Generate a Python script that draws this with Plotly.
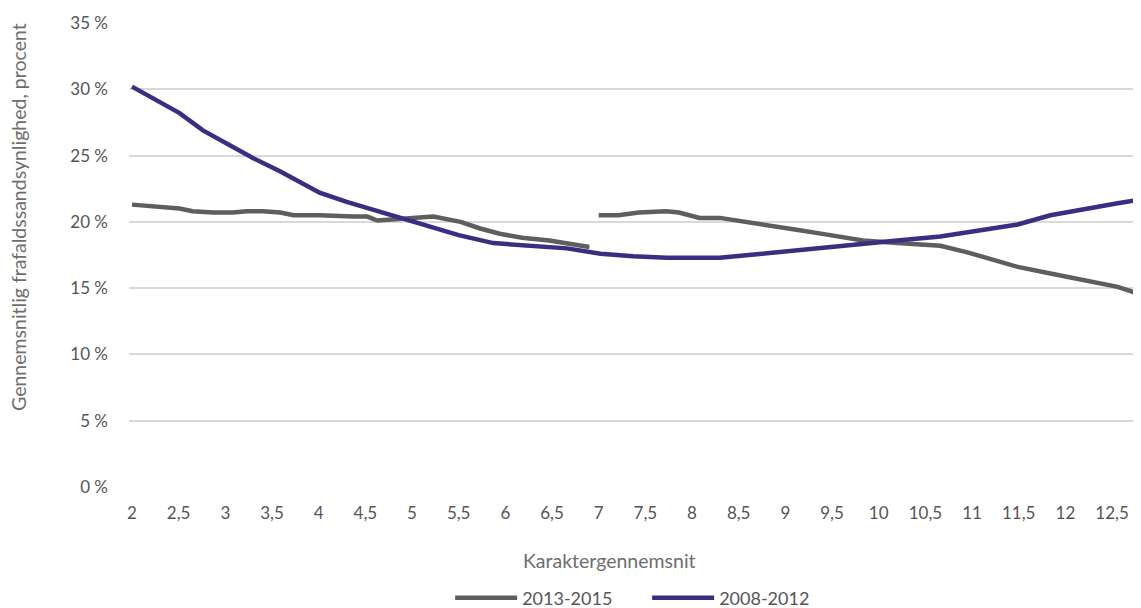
import plotly.graph_objects as go

# Series 2008-2012
x_0812 = [2.0, 2.23, 2.51, 2.76, 3.02, 3.30, 3.59, 3.80, 4.01, 4.30, 4.58, 4.84, 5.09, 5.25, 5.5,
          5.87, 6.30, 6.66, 7.02, 7.37, 7.73, 8.08, 8.30, 8.75, 9.30, 9.83, 10.2, 10.66, 10.95,
          11.49, 11.84, 12.19, 12.56, 12.81]
y_0812 = [30.2, 29.3, 28.2, 26.9, 25.9, 24.8, 23.8, 23.0, 22.2, 21.5, 20.9, 20.4, 19.8, 19.5, 19.0,
          18.4, 18.2, 18.0, 17.6, 17.4, 17.3, 17.3, 17.3, 17.6, 18.0, 18.4, 18.6, 18.9, 19.2,
          19.8, 20.5, 20.9, 21.4, 21.7]

# Series 2013-2015 (gap at 7)
x_1315 = [2.0, 2.23, 2.51, 2.65, 2.87, 3.08, 3.23, 3.40, 3.59, 3.73, 4.01, 4.37, 4.52, 4.63, 4.80,
          5.01, 5.23, 5.52, 5.73, 5.94, 6.18, 6.47, 6.66, 6.90, 6.95,
          7.0, 7.21, 7.43, 7.72, 7.86, 8.08, 8.30, 8.59, 8.80, 9.12, 9.48, 9.83, 10.2, 10.66,
          10.95, 11.23, 11.49, 11.84, 12.19, 12.56, 12.73, 12.81]
y_1315 = [21.3, 21.2, 21.0, 20.8, 20.7, 20.7, 20.8, 20.8, 20.7, 20.5, 20.5, 20.4, 20.4, 20.1, 20.2,
          20.3, 20.4, 20.0, 19.5, 19.1, 18.8, 18.6, 18.4, 18.1, None,
          20.5, 20.5, 20.7, 20.8, 20.7, 20.3, 20.3, 20.0, 19.8, 19.4, 19.0, 18.6, 18.4, 18.2,
          17.7, 17.1, 16.6, 16.1, 15.6, 15.1, 14.7, 14.2]

x_tickvals = [2, 2.5, 3, 3.5, 4, 4.5, 5, 5.5, 6, 6.5, 7, 7.5, 8, 8.5, 9, 9.5, 10, 10.5, 11, 11.5, 12, 12.5]
x_ticktext = ["2", "2,5", "3", "3,5", "4", "4,5", "5", "5,5", "6", "6,5", "7", "7,5", "8", "8,5",
              "9", "9,5", "10", "10,5", "11", "11,5", "12", "12,5"]
y_tickvals = [0, 5, 10, 15, 20, 25, 30, 35]
y_ticktext = ["0 %", "5 %", "10 %", "15 %", "20 %", "25 %", "30 %", "35 %"]

FONT = "Lato, 'Open Sans', sans-serif"
GRAY = "#5e5e5e"
PURPLE = "#3b2e82"
TICK = "#555555"
TITLE = "#6e6e6e"

fig = go.Figure()
fig.add_trace(go.Scatter(x=x_1315, y=y_1315, mode="lines", name="2013-2015",
                         line=dict(color=GRAY, width=4.5), connectgaps=False))
fig.add_trace(go.Scatter(x=x_0812, y=y_0812, mode="lines", name="2008-2012",
                         line=dict(color=PURPLE, width=4.5)))

fig.update_layout(
    width=1133, height=600,
    margin=dict(l=121, r=0, t=15, b=121),
    plot_bgcolor="white", paper_bgcolor="white",
    font=dict(family=FONT, size=18, color=TICK),
    showlegend=True,
    legend=dict(orientation="h", x=0.512, xanchor="center", xref="paper",
                y=10 / 600, yanchor="middle", yref="container",
                font=dict(size=18, color=TICK), traceorder="normal",
                itemwidth=62, entrywidth=120, entrywidthmode="pixels"),
    xaxis=dict(range=[1.968, 12.81], tickvals=x_tickvals, ticktext=x_ticktext,
               showgrid=False, zeroline=False, showline=False, ticks="",
               ticklabelstandoff=14, tickfont=dict(size=17, color=TICK)),
    yaxis=dict(range=[0, 35], tickvals=y_tickvals, ticktext=y_ticktext,
               showgrid=True, gridcolor="#d9d9d9", gridwidth=1.5, zeroline=False,
               showline=False, ticks="", ticklabelstandoff=20,
               tickfont=dict(size=17, color=TICK)),
    annotations=[
        dict(text="Gennemsnitlig frafaldssandsynlighed, procent", textangle=-90,
             xref="paper", yref="paper", x=-0.1087, y=0.582, xanchor="center", yanchor="middle",
             showarrow=False, font=dict(size=19.5, color=TITLE)),
        dict(text="Karaktergennemsnit", xref="paper", yref="paper",
             x=0.475, y=-0.158, xanchor="center", yanchor="middle",
             showarrow=False, font=dict(size=19.5, color=TITLE)),
    ],
)

fig.write_html("out.html")
